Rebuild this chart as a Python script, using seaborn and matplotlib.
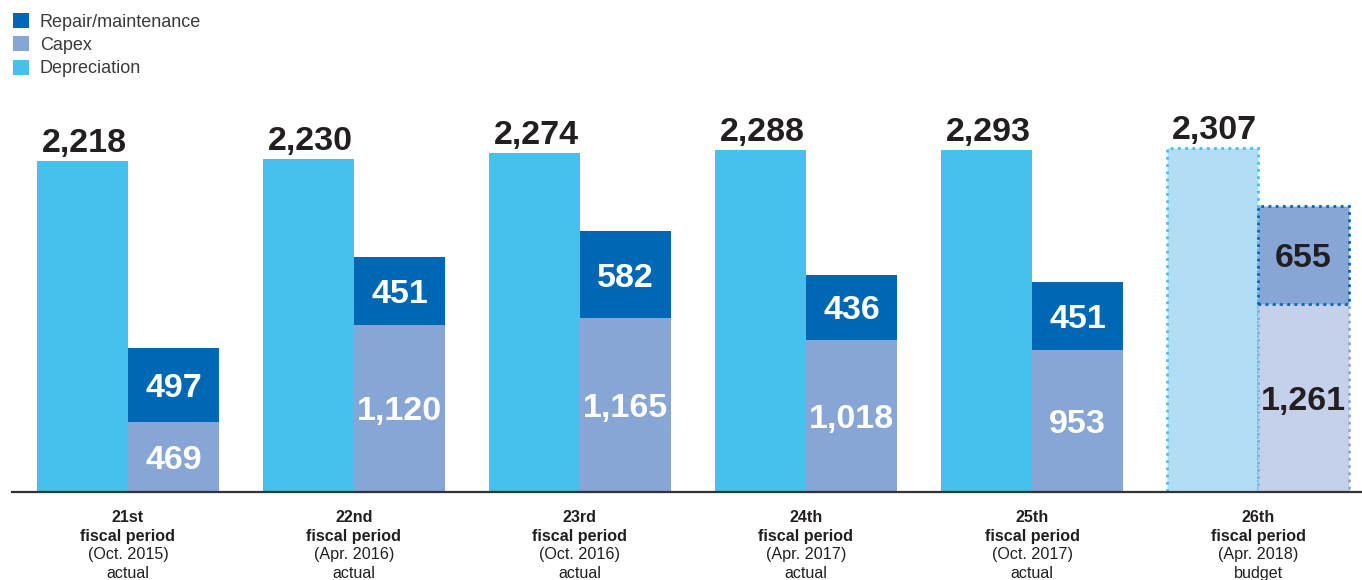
import matplotlib
matplotlib.use("Agg")
import matplotlib.pyplot as plt
from matplotlib.patches import Patch
import seaborn as sns
import pandas as pd

# Data (100 million yen)
periods = ["21st", "22nd", "23rd", "24th", "25th", "26th"]
period_dates = ["(Oct. 2015)", "(Apr. 2016)", "(Oct. 2016)", "(Apr. 2017)", "(Oct. 2017)", "(Apr. 2018)"]
period_status = ["actual", "actual", "actual", "actual", "actual", "budget"]
depreciation = [2218, 2230, 2274, 2288, 2293, 2307]
capex = [469, 1120, 1165, 1018, 953, 1261]
repair = [497, 451, 582, 436, 451, 655]
series_names = ["Repair/maintenance", "Capex", "Depreciation"]

C_REPAIR = "#0067B4"
C_CAPEX = "#87A6D6"
C_DEPR = "#48C0EC"
C_DEPR_BUDGET = "#B2DEF5"
C_CAPEX_BUDGET = "#C5D0EA"
C_REPAIR_BUDGET = "#87A6D6"
C_TEXT = "#231F20"

sns.set_theme(style="white")
plt.rcParams["font.family"] = ["Liberation Sans", "DejaVu Sans"]

W, H = 1362, 580
fig = plt.figure(figsize=(W / 100, H / 100), dpi=100)
ax = fig.add_axes([12 / W, 88 / H, 1350 / W, 392 / H])

df = pd.DataFrame({
    "period": periods * 2,
    "series": ["Depreciation"] * 6 + ["Capex"] * 6,
    "value": depreciation + capex,
})
bar_w = 0.403
sns.barplot(data=df, x="period", y="value", hue="series",
            hue_order=["Depreciation", "Capex"], order=periods,
            palette=[C_DEPR, C_CAPEX], width=2 * bar_w, dodge=True,
            gap=0, linewidth=0, saturation=1, legend=False, ax=ax)

xs = list(range(len(periods)))
repair_bars = ax.bar([x + bar_w / 2 for x in xs], repair, width=bar_w,
                     bottom=capex, color=C_REPAIR, linewidth=0)

# Split the seaborn patches back into series
patches = [p for p in ax.patches if p not in repair_bars.patches]
patches.sort(key=lambda p: p.get_x())
depr_bars = [p for p in patches if p.get_x() + p.get_width() / 2 < round(p.get_x() + p.get_width() / 2)]
capex_bars = [p for p in patches if p not in depr_bars]

# Budget period: lighter fills with dotted outlines
last = len(periods) - 1
for patch, face, edge in [(depr_bars[last], C_DEPR_BUDGET, C_DEPR),
                          (capex_bars[last], C_CAPEX_BUDGET, "#8FA6D8"),
                          (repair_bars.patches[last], C_REPAIR_BUDGET, C_REPAIR)]:
    patch.set_facecolor(face)
    patch.set_edgecolor(edge)
    patch.set_linewidth(2.0)
    patch.set_linestyle((0, (1, 1.6)))
repair_bars.patches[last].set_zorder(4)

ax.set_xlim(-0.513, 5.46)
ax.set_ylim(0, 2626)
ax.set_xlabel("")
ax.set_ylabel("")
ax.set_yticks([])
ax.set_xticks([])
for s in ["top", "right", "left"]:
    ax.spines[s].set_visible(False)
ax.spines["bottom"].set_color("#333333")
ax.spines["bottom"].set_linewidth(1.6)
ax.spines["bottom"].set_zorder(6)

num_font = dict(fontsize=24.5, fontweight="bold", family=["Liberation Sans", "DejaVu Sans"])

for i, x in enumerate(xs):
    inner_color = C_TEXT if period_status[i] == "budget" else "white"
    ax.annotate(f"{depreciation[i]:,}", (x - bar_w / 2, depreciation[i]),
                xytext=(1.5, 6.5), textcoords="offset points",
                ha="center", va="baseline", color=C_TEXT, **num_font)
    ax.annotate(f"{capex[i]:,}", (x + bar_w / 2, capex[i] / 2),
                xytext=(0, -8.6), textcoords="offset points",
                ha="center", va="baseline", color=inner_color, zorder=7, **num_font)
    ax.annotate(f"{repair[i]:,}", (x + bar_w / 2, capex[i] + repair[i] / 2),
                xytext=(0, -8.6), textcoords="offset points",
                ha="center", va="baseline", color=inner_color, zorder=7, **num_font)

# Multi-line category labels below the axis
trans = ax.get_xaxis_transform()
for i, x in enumerate(xs):
    lines = [(periods[i], "bold"), ("fiscal period", "bold"),
             (period_dates[i], "normal"), (period_status[i], "normal")]
    for j, (txt, wt) in enumerate(lines):
        ax.annotate(txt, (x, 0), xycoords=trans,
                    xytext=(0, -21.6 - j * 13.5), textcoords="offset points",
                    ha="center", va="baseline", fontsize=11.6, fontweight=wt,
                    color=C_TEXT, annotation_clip=False)

handles = [Patch(facecolor=C_REPAIR, edgecolor="none"),
           Patch(facecolor=C_CAPEX, edgecolor="none"),
           Patch(facecolor=C_DEPR, edgecolor="none")]
fig.legend(handles, series_names, loc="upper left",
           bbox_to_anchor=(13 / W, 1 - 13 / H), frameon=False,
           fontsize=13, handlelength=0.9, handleheight=0.9,
           handletextpad=0.58, labelspacing=0.31, borderpad=0,
           borderaxespad=0, labelcolor="#3a3a3a")

fig.savefig("out.png", dpi=100)
